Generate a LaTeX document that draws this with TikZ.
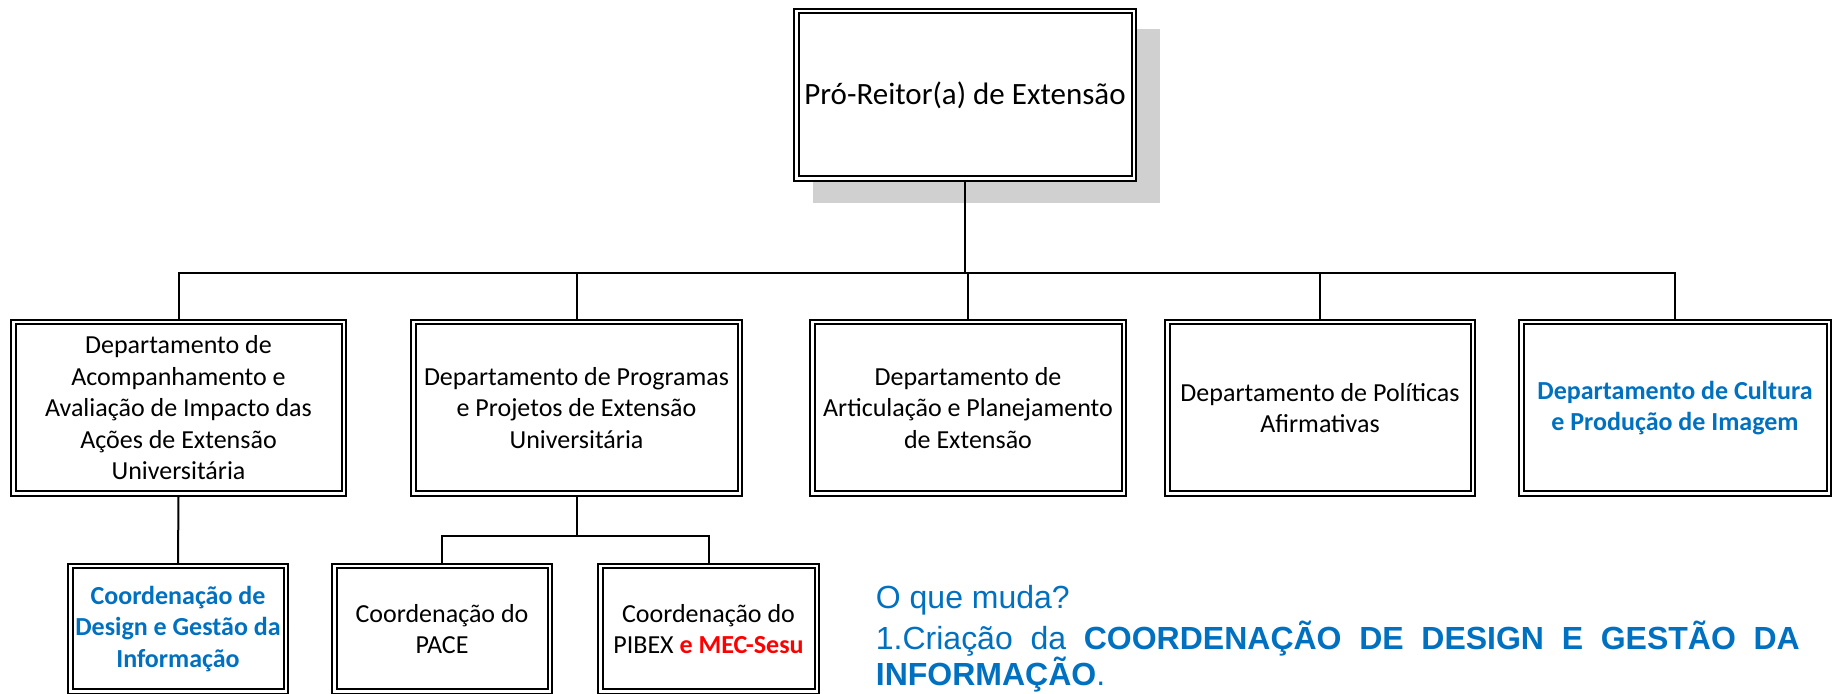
\documentclass[tikz,border=0pt]{standalone}
\usepackage{fontspec}
\setmainfont{Carlito}
\newfontfamily\arialfont{Liberation Sans}
\definecolor{officeblue}{HTML}{0070C0}
\definecolor{shadowgray}{HTML}{D0D0D0}
\tikzset{
	orgbox/.style={draw, line width=1pt, double=white, double distance=1.25pt, fill=white, align=center, inner sep=1pt, outer sep=1.6pt, font=\fontsize{13}{15.75}\selectfont},
	dept/.style={orgbox, minimum height=85.75pt},
	coordbox/.style={orgbox, minimum width=107.75pt, minimum height=62.75pt},
	newunit/.style={text=officeblue, font=\bfseries\fontsize{13}{15.75}\selectfont},
	link/.style={line width=1pt}
}
\begin{document}
\begin{tikzpicture}[x=0.5pt, y=-0.5pt]
	\useasboundingbox (0,0) rectangle (1833,694);
	\fill[shadowgray] (813,29) rectangle (1160,203);
	\node[orgbox, minimum width=168.75pt, minimum height=83.75pt, font=\fontsize{15.5}{19}\selectfont] (reitor) at (965,95) {Pró-Reitor(a) de Extensão};
	% departamentos
	\node[dept, minimum width=165.25pt] (acomp) at (178.5,408) {Departamento de\\Acompanhamento e\\Avaliação de Impacto das\\Ações de Extensão\\Universitária};
	\node[dept, minimum width=163.25pt] (progr) at (576.5,408) {Departamento de Programas\\e Projetos de Extensão\\Universitária};
	\node[dept, minimum width=155.75pt] (artic) at (968,408) {Departamento de\\Articulação e Planejamento\\de Extensão};
	\node[dept, minimum width=152.75pt] (polit) at (1320,408) {Departamento de Políticas\\Afirmativas};
	\node[dept, newunit, minimum width=153.75pt] (cultura) at (1675,408) {Departamento de Cultura\\e Produção de Imagem};
	% coordenacoes
	\node[coordbox, newunit] (design) at (178,629) {Coordenação de\\Design e Gestão da\\Informação};
	\node[coordbox] (pace) at (442,629) {Coordenação do\\PACE};
	\node[coordbox, minimum width=108.25pt] (pibex) at (708.5,629) {Coordenação do\\PIBEX \textcolor{red}{\textbf{e MEC-Sesu}}};
	\coordinate (bus) at (965,273);
	\coordinate (subbus) at (576.5,536);
	\draw[link] (reitor.south) -- (bus);
	\draw[link] (acomp.north) |- (bus) -| (cultura.north);
	\draw[link] (progr.north) -- (progr.north |- bus); \draw[link] (artic.north) -- (artic.north |- bus); \draw[link] (polit.north) -- (polit.north |- bus);
	\draw[link] (acomp.south) -- (design.north);
	\draw[link] (progr.south) -- (subbus);
	\draw[link] (pace.north) |- (subbus) -| (pibex.north);
	\node[anchor=base west, text width=462pt, align=justify, inner sep=0pt, text=officeblue, font=\arialfont\fontsize{16}{18}\selectfont] (muda) at (875.5,609) {O que muda?\\[2.5pt]1.Criação da \textbf{COORDENAÇÃO DE DESIGN E GESTÃO DA}\linebreak\textbf{INFORMAÇÃO}.};
\end{tikzpicture}
\end{document}
